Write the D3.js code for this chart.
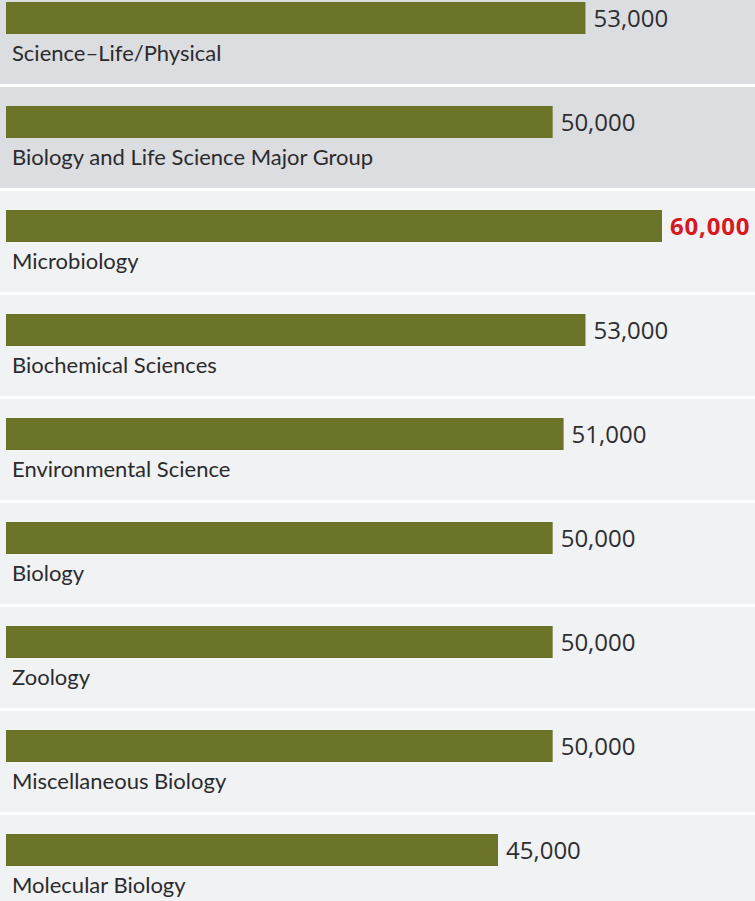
<!DOCTYPE html>
<html>
<head>
<meta charset="utf-8">
<script src="https://cdn.jsdelivr.net/npm/d3@7"></script>
<style>
html,body{margin:0;padding:0;background:#fff;}
svg{display:block;}
</style>
</head>
<body>
<svg id="chart" width="755" height="901"></svg>
<script>
const categories = ["Science–Life/Physical","Biology and Life Science Major Group","Microbiology","Biochemical Sciences","Environmental Science","Biology","Zoology","Miscellaneous Biology","Molecular Biology"];
const values = [53000,50000,60000,53000,51000,50000,50000,50000,45000];
const valueLabels = ["53,000","50,000","60,000","53,000","51,000","50,000","50,000","50,000","45,000"];
const groupRows = ["Science–Life/Physical","Biology and Life Science Major Group"];
const highlight = "Microbiology";

const W = 755, H = 901;
const svg = d3.select("#chart");
const y = d3.scaleBand().domain(categories).range([-17, -17 + 104*categories.length]).paddingInner(0);
const x = d3.scaleLinear().domain([0, 60000]).range([6, 662]);

const row = svg.selectAll("g.row").data(categories).join("g")
  .attr("class","row")
  .attr("transform", d => `translate(0,${y(d)})`);

row.append("rect")
  .attr("x",0).attr("y",0).attr("width",W).attr("height", y.step()-3)
  .attr("fill", d => groupRows.includes(d) ? "#dcdde0" : "#f1f2f4");

row.append("rect")
  .attr("x", x(0)).attr("y", 19).attr("height", 32)
  .attr("width", (d,i) => x(values[i]) - x(0))
  .attr("fill", "#6b7329");

row.append("text")
  .attr("x", (d,i) => x(values[i]) + 8)
  .attr("y", 44)
  .attr("font-family", "'Open Sans', sans-serif")
  .attr("font-size", 24)
  .attr("font-weight", d => d === highlight ? 700 : 400)
  .attr("letter-spacing", d => d === highlight ? 0.8 : 0)
  .attr("fill", d => d === highlight ? "#d7191f" : "#2e2e30")
  .text((d,i) => valueLabels[i]);

row.append("text")
  .attr("x", 12)
  .attr("y", 78)
  .attr("font-family", "Lato, sans-serif")
  .attr("font-size", 22)
  .attr("fill", "#2b2b2d")
  .text(d => d);
</script>
</body>
</html>
